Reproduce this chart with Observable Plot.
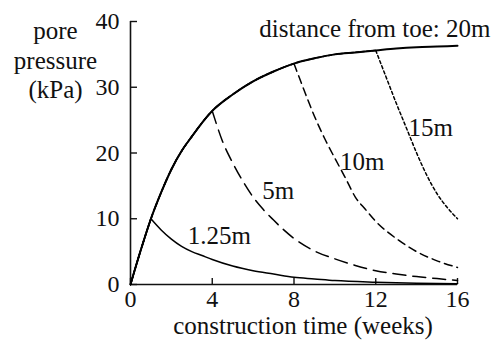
<!DOCTYPE html>
<html><head><meta charset="utf-8">
<script src="https://cdn.jsdelivr.net/npm/d3@7"></script>
<script src="https://cdn.jsdelivr.net/npm/@observablehq/plot@0.6"></script>
<style>body{margin:0;background:#fff;}</style>
</head><body><div id="chart"></div>
<script>
// Main loading curve (distance from toe: 20m)
const weeks20m = [0, 0.5, 1, 1.5, 2, 2.5, 3, 3.5, 4, 5, 6, 7, 8, 9, 10, 11, 12, 13, 14, 15, 16];
const pressure20m = [0, 5.2, 10, 14, 17.5, 20.3, 22.5, 24.6, 26.4, 28.9, 30.9, 32.4, 33.6, 34.4, 35.0, 35.3, 35.6, 35.9, 36.1, 36.2, 36.3];

// Dissipation branches
const weeks125 = [1, 1.5, 2, 2.5, 3, 3.5, 4, 5, 6, 7, 8, 9, 10, 12, 14, 16];
const pressure125 = [10, 8.3, 6.9, 5.8, 5.0, 4.4, 3.8, 2.8, 2.1, 1.6, 1.1, 0.85, 0.6, 0.35, 0.2, 0.1];

const weeks5 = [4, 4.5, 5, 5.5, 6, 6.5, 7, 7.5, 8, 9, 10, 11, 12, 13, 14, 15, 16];
const pressure5 = [26.4, 21.8, 18.5, 15.7, 13.3, 11.4, 9.8, 8.3, 7.0, 5.1, 3.9, 2.9, 2.1, 1.6, 1.2, 0.9, 0.6];

const weeks10 = [8, 8.5, 9, 9.5, 10, 10.5, 11, 11.5, 12, 13, 14, 15, 16];
const pressure10 = [33.6, 29.5, 25.6, 22.2, 19.2, 16.3, 13.3, 11.4, 9.6, 7.0, 5.0, 3.6, 2.6];

const weeks15 = [12, 12.5, 13, 13.5, 14, 14.5, 15, 15.5, 16];
const pressure15 = [35.6, 31.6, 27.6, 23.8, 20.0, 16.6, 13.8, 11.7, 10.0];

const xTicks = [0, 4, 8, 12, 16];
const yTicks = [0, 10, 20, 30, 40];
const seriesNames = ["1.25m", "5m", "10m", "15m", "20m"];
const seriesLabels = ["1.25m", "5m", "10m", "15m", "distance from toe: 20m"];
const xLabel = "construction time (weeks)";
const yLabel = "pore\npressure\n(kPa)";

const FONT = "'Liberation Serif', 'Times New Roman', serif";
const LABEL_SIZE = 25;
const pts = (ws, us) => ws.map((t, i) => ({t, u: us[i]}));
const main = pts(weeks20m, pressure20m);

const branches = [
  {name: seriesNames[0], label: seriesLabels[0], pts: pts(weeks125, pressure125), dash: null, width: 1.5, at: 3, dx: -4, dy: -8, anchor: "start"},
  {name: seriesNames[1], label: seriesLabels[1], pts: pts(weeks5, pressure5), dash: "13,7", width: 1.5, at: 6, dx: 9, dy: 2, anchor: "start"},
  {name: seriesNames[2], label: seriesLabels[2], pts: pts(weeks10, pressure10), dash: "8,5", width: 1.5, at: 10, dx: 5, dy: 12, anchor: "start"},
  {name: seriesNames[3], label: seriesLabels[3], pts: pts(weeks15, pressure15), dash: "3,2.5", width: 1.5, at: 13.5, dx: 2, dy: 8, anchor: "start"}
];

const marks = [
  Plot.ruleX([0], {strokeWidth: 1.6}),
  Plot.ruleY([0], {strokeWidth: 1.6}),
  Plot.axisY({ticks: yTicks, tickSize: -7, tickFormat: () => "", strokeWidth: 1.4, label: null}),
  Plot.axisY({ticks: yTicks, tickSize: 0, tickPadding: 11, label: null, fontSize: 24}),
  Plot.axisX({ticks: xTicks, tickSize: -6, tickFormat: () => "", strokeWidth: 1.4, label: null}),
  Plot.axisX({ticks: xTicks, tickSize: 0, tickPadding: 5, label: null, fontSize: 24})
];

for (const b of branches) {
  const start = b.pts[0].t;
  const rising = main.filter(d => d.t <= start);
  marks.push(Plot.line(rising, {x: "t", y: "u", curve: "monotone-x", stroke: "black", strokeWidth: b.width, strokeDasharray: b.dash}));
  marks.push(Plot.line(b.pts, {x: "t", y: "u", curve: "monotone-x", stroke: "black", strokeWidth: b.width, strokeDasharray: b.dash}));
  const p = b.pts.find(d => d.t === b.at);
  marks.push(Plot.text([p], {x: "t", y: "u", text: () => b.label, dx: b.dx, dy: b.dy, textAnchor: b.anchor, lineAnchor: "bottom", fontSize: LABEL_SIZE, fill: "#111"}));
}
marks.push(Plot.line(main, {x: "t", y: "u", curve: "monotone-x", stroke: "black", strokeWidth: 2}));
const endPt = main[main.length - 1];
marks.push(Plot.text([endPt], {x: "t", y: "u", text: () => seriesLabels[4], dx: 33, dy: -8.5, textAnchor: "end", lineAnchor: "bottom", fontSize: LABEL_SIZE, fill: "#111"}));
marks.push(Plot.text([yLabel], {frameAnchor: "top-left", text: d => d, dx: -75, dy: -3, textAnchor: "middle", lineAnchor: "top", lineHeight: 1.17, fontSize: LABEL_SIZE, fill: "#111"}));
marks.push(Plot.text([xLabel], {frameAnchor: "bottom", text: d => d, dx: 9, dy: 49, textAnchor: "middle", lineAnchor: "bottom", fontSize: LABEL_SIZE, fill: "#111"}));

const chart = Plot.plot({
  width: 491,
  height: 343,
  marginLeft: 130,
  marginRight: 34,
  marginTop: 21,
  marginBottom: 59,
  style: {fontFamily: FONT, fontSize: "24px", background: "white", color: "#111"},
  x: {domain: [0, 16]},
  y: {domain: [0, 40]},
  marks
});
document.getElementById("chart").appendChild(chart);
</script>
</body></html>
